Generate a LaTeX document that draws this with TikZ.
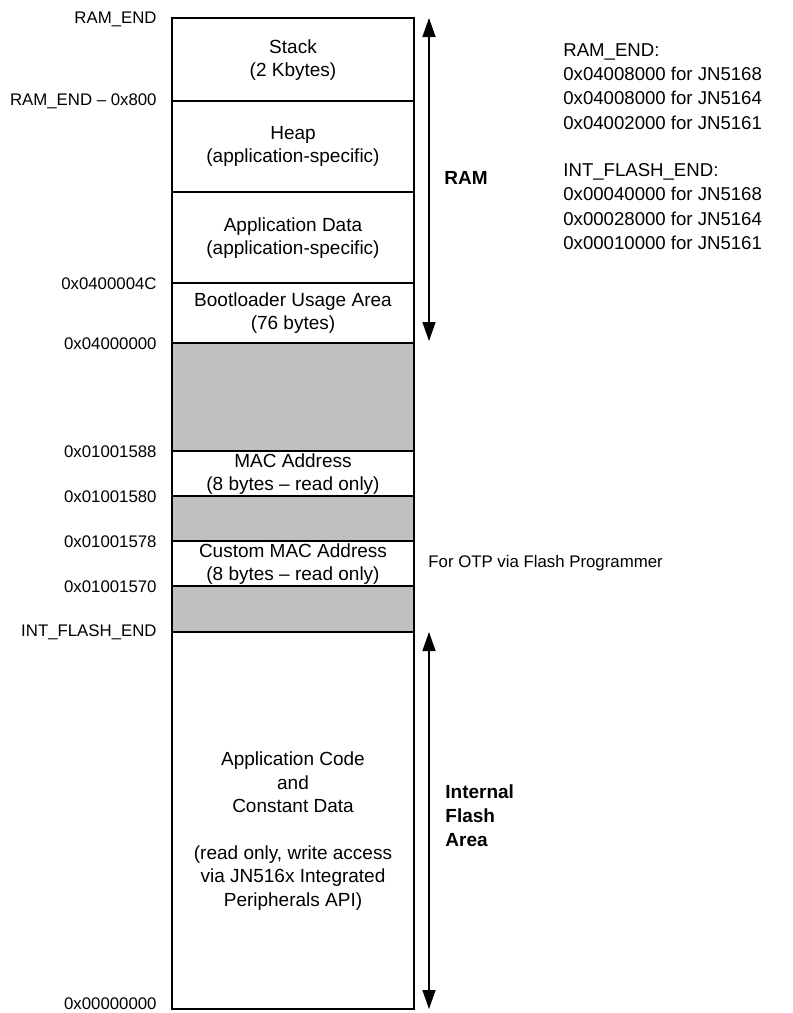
\documentclass[tikz,border=0pt]{standalone}
\usepackage{fontspec}
\setmainfont{Liberation Sans}
\usetikzlibrary{arrows.meta}
\definecolor{reserved}{HTML}{C0C0C0}

\begin{document}
\begin{tikzpicture}[x=0.5pt,y=-0.5pt,
  cell/.style={draw=black, line width=0.8pt, fill=white},
  gap/.style={cell, fill=reserved},
  celltxt/.style={align=center, font=\fontsize{9.5}{11.7}\selectfont, inner sep=0pt},
  addr/.style={anchor=east, font=\fontsize{8.4}{10}\selectfont, inner sep=0pt},
  note/.style={anchor=west, align=left, font=\fontsize{9.3}{12.15}\selectfont, inner sep=0pt},
  area/.style={anchor=west, align=left, font=\fontsize{9.5}{12}\selectfont\bfseries, inner sep=0pt},
  span/.style={line width=0.7pt, {Triangle[length=9.5pt,width=6.5pt]}-{Triangle[length=9.5pt,width=6.5pt]}}]
\useasboundingbox (0,0) rectangle (793,1013);
\def\bl{172}
\def\br{414}
\def\bx{293}
\def\ax{157}

% memory regions, top to bottom
\draw[cell] (\bl,18) rectangle (\br,101);
\draw[cell] (\bl,101) rectangle (\br,192);
\draw[cell] (\bl,192) rectangle (\br,283);
\draw[cell] (\bl,283) rectangle (\br,343);
\draw[gap] (\bl,343) rectangle (\br,451);
\draw[cell] (\bl,451) rectangle (\br,496);
\draw[gap] (\bl,496) rectangle (\br,541);
\draw[cell] (\bl,541) rectangle (\br,586);
\draw[gap] (\bl,586) rectangle (\br,632);
\draw[cell] (\bl,632) rectangle (\br,1009);

\node[celltxt] (stack) at (\bx,60) {Stack\\(2 Kbytes)};
\node[celltxt] (heap) at (\bx,146.5) {Heap\\(application-specific)};
\node[celltxt] (appdata) at (\bx,238) {Application Data\\(application-specific)};
\node[celltxt] (boot) at (\bx,313) {Bootloader Usage Area\\(76 bytes)};
\node[celltxt] (mac) at (\bx,474) {MAC Address\\(8 bytes -- read only)};
\node[celltxt] (cmac) at (\bx,564) {Custom MAC Address\\(8 bytes -- read only)};
\node[celltxt] (code) at (\bx,831) {Application Code\\and\\Constant Data\\[11.7pt](read only, write access\\via JN516x Integrated\\Peripherals API)};

% addresses
\node[addr] (aramend) at (\ax,19) {RAM\_END};
\node[addr] (astack) at (\ax,101) {RAM\_END -- 0x800};
\node[addr] (aboot) at (\ax,284) {0x0400004C};
\node[addr] (aram) at (\ax,344) {0x04000000};
\node[addr] (amac) at (\ax,452) {0x01001588};
\node[addr] (amacend) at (\ax,497) {0x01001580};
\node[addr] (acmac) at (\ax,542) {0x01001578};
\node[addr] (acmacend) at (\ax,587) {0x01001570};
\node[addr] (aflashend) at (\ax,632) {INT\_FLASH\_END};
\node[addr] (azero) at (\ax,1004) {0x00000000};

% spans
\coordinate (ramtop) at (429,18);
\coordinate (rambot) at (429,341);
\coordinate (flashtop) at (429,632);
\coordinate (flashbot) at (429,1009);
\draw[span] (rambot) -- (ramtop);
\draw[span] (flashbot) -- (flashtop);
\node[area] (ramlbl) at (444,178) {RAM};
\node[area] (flashlbl) at (445,816) {Internal\\Flash\\Area};

% notes
\node[note] (ramnote) at (563,86.5) {RAM\_END:\\0x04008000 for JN5168\\0x04008000 for JN5164\\0x04002000 for JN5161};
\node[note] (flashnote) at (563,206.5) {INT\_FLASH\_END:\\0x00040000 for JN5168\\0x00028000 for JN5164\\0x00010000 for JN5161};
\node[addr, anchor=west] (otp) at (428,563) {For OTP via Flash Programmer};
\end{tikzpicture}
\end{document}
